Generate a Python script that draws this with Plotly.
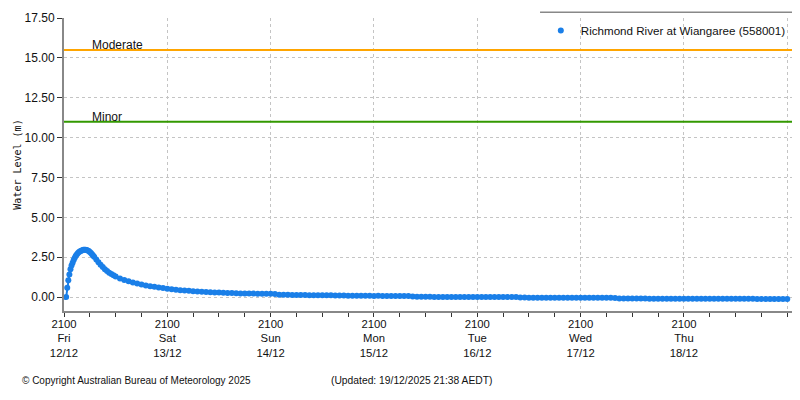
import plotly.graph_objects as go
from datetime import datetime, timedelta

# ---------------- data ----------------
start = datetime(2025, 12, 12, 21, 0)
series_name = "Richmond River at Wiangaree (558001)"

# early, finer-resolution readings (hours after Fri 12/12 21:00)
hours_fine = [0.5, 0.75, 1.0, 1.25, 1.5, 1.75, 2.0, 2.25, 2.5, 2.75, 3.0, 3.25,
              3.5, 3.75, 4.0, 4.25, 4.5, 4.75, 5.0, 5.25, 5.5, 5.75, 6.0, 6.25,
              6.5, 6.75, 7.0, 7.5, 8.0, 8.5, 9.0, 9.5, 10.0, 10.5, 11.0, 11.5, 12.0]
level_fine = [0.00, 0.59, 1.06, 1.42, 1.75, 1.98, 2.15, 2.33, 2.47, 2.59, 2.68, 2.76,
              2.82, 2.87, 2.91, 2.94, 2.96, 2.97, 2.97, 2.95, 2.92, 2.88, 2.82, 2.76,
              2.69, 2.61, 2.53, 2.36, 2.18, 2.02, 1.88, 1.74, 1.63, 1.53, 1.44, 1.36, 1.29]

# hourly readings from hour 13 to hour 168
level_hourly = [
    1.17, 1.07, 0.99, 0.91, 0.85, 0.79, 0.73, 0.68, 0.64, 0.60, 0.56, 0.52,
    0.49, 0.46, 0.43, 0.41, 0.39, 0.37, 0.35, 0.33, 0.32, 0.30, 0.29, 0.28,
    0.27, 0.26, 0.25, 0.24, 0.23, 0.23, 0.22, 0.22, 0.21, 0.21, 0.20, 0.20,
    0.19, 0.15, 0.14, 0.14, 0.13, 0.13, 0.13, 0.13, 0.12, 0.12, 0.12, 0.12,
    0.12, 0.11, 0.09, 0.09, 0.09, 0.08, 0.08, 0.08, 0.08, 0.08, 0.08, 0.07,
    0.08, 0.07, 0.07, 0.07, 0.07, 0.07, 0.06, 0.06, 0.03, 0.02, 0.02, 0.02,
    0.02, 0.01, 0.01, 0.01, 0.01, 0.01, 0.01, 0.01, 0.01, 0.00, 0.01, 0.00,
    0.00, 0.00, 0.00, 0.00, 0.00, 0.00, 0.00, 0.00, 0.00, -0.03, -0.03, -0.04,
    -0.04, -0.04, -0.04, -0.04, -0.04, -0.04, -0.04, -0.04, -0.05, -0.05, -0.05, -0.05,
    -0.05, -0.05, -0.05, -0.05, -0.05, -0.05, -0.05, -0.06, -0.09, -0.09, -0.09, -0.09,
    -0.09, -0.09, -0.09, -0.10, -0.10, -0.10, -0.10, -0.10, -0.10, -0.10, -0.10, -0.10,
    -0.10, -0.10, -0.11, -0.11, -0.11, -0.11, -0.11, -0.11, -0.11, -0.11, -0.11, -0.11,
    -0.11, -0.11, -0.11, -0.11, -0.12, -0.12, -0.12, -0.12, -0.12, -0.12, -0.12, -0.12,
]
hours_hourly = list(range(13, 13 + len(level_hourly)))

thresholds = {"Moderate": 15.5, "Minor": 11.0}
threshold_colors = {"Moderate": "#FFA500", "Minor": "#339900"}

tick_days = ["Fri", "Sat", "Sun", "Mon", "Tue", "Wed", "Thu", ""]
tick_dates = ["12/12", "13/12", "14/12", "15/12", "16/12", "17/12", "18/12", ""]
y_ticks = [0.0, 2.5, 5.0, 7.5, 10.0, 12.5, 15.0, 17.5]

# ---------------- build ----------------
hours = hours_fine + hours_hourly
levels = level_fine + level_hourly
times = [start + timedelta(hours=h) for h in hours]

tickvals = [start + timedelta(days=i) for i in range(len(tick_days))]
ticktext = [f"2100<br>{d}<br>{t}" if d else "" for d, t in zip(tick_days, tick_dates)]

blue = "#1a7fe8"
font = "Liberation Sans, Arial, sans-serif"

fig = go.Figure()
fig.add_trace(go.Scatter(
    x=times, y=levels, mode="lines+markers",
    line=dict(color=blue, width=2),
    marker=dict(color=blue, size=6),
    showlegend=False, hoverinfo="x+y"))
fig.add_trace(go.Scatter(
    x=[None], y=[None], mode="markers", name=series_name,
    marker=dict(color=blue, size=6)))

shapes = []
annotations = []
for name, val in thresholds.items():
    shapes.append(dict(type="line", xref="paper", x0=0, x1=1, yref="y", y0=val, y1=val,
                       line=dict(color=threshold_colors[name], width=2), layer="above"))
    annotations.append(dict(x=start + timedelta(hours=6), y=val, xref="x", yref="y",
                            text=name, showarrow=False, xanchor="left", yanchor="bottom",
                            yshift=-4, font=dict(family=font, size=12, color="#111")))

# top edge near legend
shapes.append(dict(type="line", xref="paper", yref="paper", x0=0.653, x1=1.0,
                   y0=1.02, y1=1.02, line=dict(color="#888", width=1.5)))
shapes.append(dict(type="line", xref="paper", yref="paper", x0=1.0, x1=1.0,
                   y0=1.0, y1=1.02, line=dict(color="#888", width=2)))

annotations.append(dict(x=-0.0604, y=-0.236, xref="paper", yref="paper",
                        text="© Copyright Australian Bureau of Meteorology 2025",
                        showarrow=False, xanchor="left", yanchor="middle",
                        font=dict(family=font, size=10, color="#111")))
annotations.append(dict(x=0.363, y=-0.236, xref="paper", yref="paper",
                        text="(Updated: 19/12/2025 21:38 AEDT)",
                        showarrow=False, xanchor="left", yanchor="middle",
                        font=dict(family=font, size=10.3, color="#111")))

# page body has an 8px margin, so the figure is 8px smaller and margins reduced by 8
fig.update_layout(
    width=792, height=392,
    margin=dict(l=56, r=7, t=10, b=89, autoexpand=False),
    paper_bgcolor="white", plot_bgcolor="white",
    font=dict(family=font, size=12, color="#111"),
    shapes=shapes, annotations=annotations,
    legend=dict(x=0.997, y=1.007, xanchor="right", yanchor="top",
                bgcolor="rgba(0,0,0,0)", font=dict(family=font, size=11.6, color="#111"),
                itemwidth=30),
    xaxis=dict(
        type="date", automargin=False,
        range=[start, start + timedelta(days=7, hours=1, minutes=20)],
        tickvals=tickvals, ticktext=ticktext,
        ticks="outside", ticklen=4, tickcolor="#333",
        ticklabelstandoff=-3,
        showline=True, linecolor="#888", linewidth=2,
        showgrid=True, gridcolor="#c4c4c4", griddash="3px,3px", gridwidth=1,
        zeroline=False,
        minor=dict(dtick=6 * 3600 * 1000, tick0=start, ticks="outside",
                   ticklen=4, tickcolor="#333", showgrid=False),
        tickfont=dict(family=font, size=11.3, color="#111"),
    ),
    yaxis=dict(
        automargin=False,
        range=[-0.875, 17.5],
        tickvals=y_ticks, tickformat=".2f",
        ticks="outside", ticklen=5, tickcolor="#333",
        showline=True, linecolor="#888", linewidth=2, mirror=True,
        showgrid=True, gridcolor="#c4c4c4", griddash="3px,3px", gridwidth=1,
        zeroline=False,
        tickfont=dict(family=font, size=12, color="#111"),
        title=dict(text="Water Level (m)", standoff=1,
                   font=dict(family="DejaVu Sans Mono, monospace", size=10, color="#111")),
    ),
)

fig.write_html("out.html")
